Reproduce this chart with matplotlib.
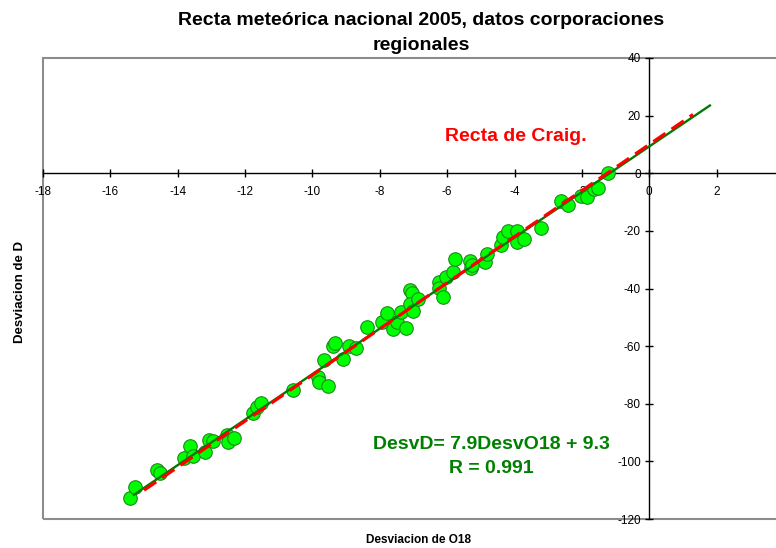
import numpy as np
import matplotlib.pyplot as plt
from matplotlib.patches import Rectangle

plt.rcParams['font.family'] = ['Liberation Sans', 'DejaVu Sans']
plt.rcParams['axes.unicode_minus'] = False

# Desviaciones isotópicas (O18, D) de las corporaciones regionales
desv_o18 = [-15.41, -15.27, -14.61, -14.52, -13.81, -13.63, -13.54, -13.19, -13.07, -12.95,
            -12.53, -12.50, -12.33, -11.76, -11.64, -11.52, -10.57, -9.83, -9.80, -9.53,
            -9.65, -9.09, -9.39, -9.33, -8.91, -8.70, -8.38, -7.93, -7.78, -7.60,
            -7.48, -7.37, -7.22, -7.10, -7.04, -7.10, -7.01, -6.86, -6.24, -6.24,
            -6.12, -6.03, -5.82, -5.76, -5.32, -5.29, -5.26, -4.87, -4.81, -4.40,
            -4.34, -4.19, -3.92, -3.92, -3.71, -3.21, -2.61, -2.41, -2.02, -1.84,
            -1.63, -1.51, -1.22]
desv_d = [-112.8, -108.9, -103.0, -104.1, -98.9, -94.7, -98.2, -96.8, -92.6, -93.0,
          -90.9, -93.3, -91.9, -83.3, -81.2, -79.8, -75.3, -70.8, -72.5, -73.9,
          -64.9, -64.5, -60.0, -59.0, -60.0, -60.7, -53.4, -51.7, -48.6, -54.1,
          -51.7, -48.2, -53.8, -40.6, -41.6, -45.4, -47.9, -43.7, -37.8, -39.9,
          -43.0, -36.1, -34.3, -29.8, -30.5, -33.0, -31.9, -30.9, -28.1, -25.0,
          -22.2, -20.1, -20.1, -23.9, -22.9, -19.1, -9.7, -11.1, -8.0, -8.3,
          -5.6, -5.2, 0.0]

# Recta de regresión y recta meteórica mundial (Craig)
pend_reg, inter_reg = 7.9, 9.3
r_reg = 0.991
rango_reg = [-15.3, 1.8]
pend_craig, inter_craig = 8.0, 10.0
rango_craig = [-15.0, 1.3]

fig = plt.figure(figsize=(7.76, 5.48), dpi=100)
ax = fig.add_axes([43 / 776, 29 / 548, 741 / 776, 461 / 548])

ax.scatter(desv_o18, desv_d, s=95, facecolor='#00ff00', edgecolor='#1a8a1a',
           linewidth=0.8, zorder=3)

xr = np.array(rango_reg)
ax.plot(xr, pend_reg * xr + inter_reg, color='#007a00', lw=1.7, zorder=4)
xc = np.array(rango_craig)
ax.plot(xc, pend_craig * xc + inter_craig, color='#ff0000', lw=2.3,
        dashes=(4.6, 2.3), zorder=5)

ax.set_xlim(-18, 4)
ax.set_ylim(-120, 40)
ax.set_xticks(np.arange(-18, 4, 2))
ax.set_yticks(np.arange(-120, 41, 20))

# ejes cruzando en el origen
ax.spines['left'].set_position(('data', 0))
ax.spines['bottom'].set_position(('data', 0))
ax.spines['top'].set_visible(False)
ax.spines['right'].set_visible(False)
for s in ('left', 'bottom'):
    ax.spines[s].set_linewidth(1.0)
    ax.spines[s].set_zorder(2.5)
ax.tick_params(direction='inout', length=6, width=1, labelsize=8.5, pad=3)
ax.tick_params(axis='x', pad=6)

# marco gris del área de trazado
ax.add_patch(Rectangle((0, 0), 1, 1, transform=ax.transAxes, fill=False,
                       edgecolor='#8c8c8c', lw=1.5, clip_on=False, zorder=0))

ax.text(-3.95, 12.8, 'Recta de Craig.', color='#ff0000', fontsize=14,
        fontweight='bold', ha='center', va='center')
ax.text(-4.7, -98.3, f'DesvD= {pend_reg}DesvO18 + {inter_reg}\nR = {r_reg}',
        color='#008000', fontsize=14, fontweight='bold', ha='center',
        va='center', multialignment='center', linespacing=1.55)

fig.text(421 / 776, 1 - 33 / 548,
         'Recta meteórica nacional 2005, datos corporaciones\nregionales',
         fontsize=14, fontweight='bold', ha='center', va='center', linespacing=1.55)
fig.text(20 / 776, 1 - 292 / 548, 'Desviacion de D', rotation=90, fontsize=9.5,
         fontweight='bold', ha='center', va='center')
fig.text(418 / 776, 1 - 540 / 548, 'Desviacion de O18', fontsize=8.5,
         fontweight='bold', ha='center', va='center')

fig.savefig('out.png', dpi=100)
